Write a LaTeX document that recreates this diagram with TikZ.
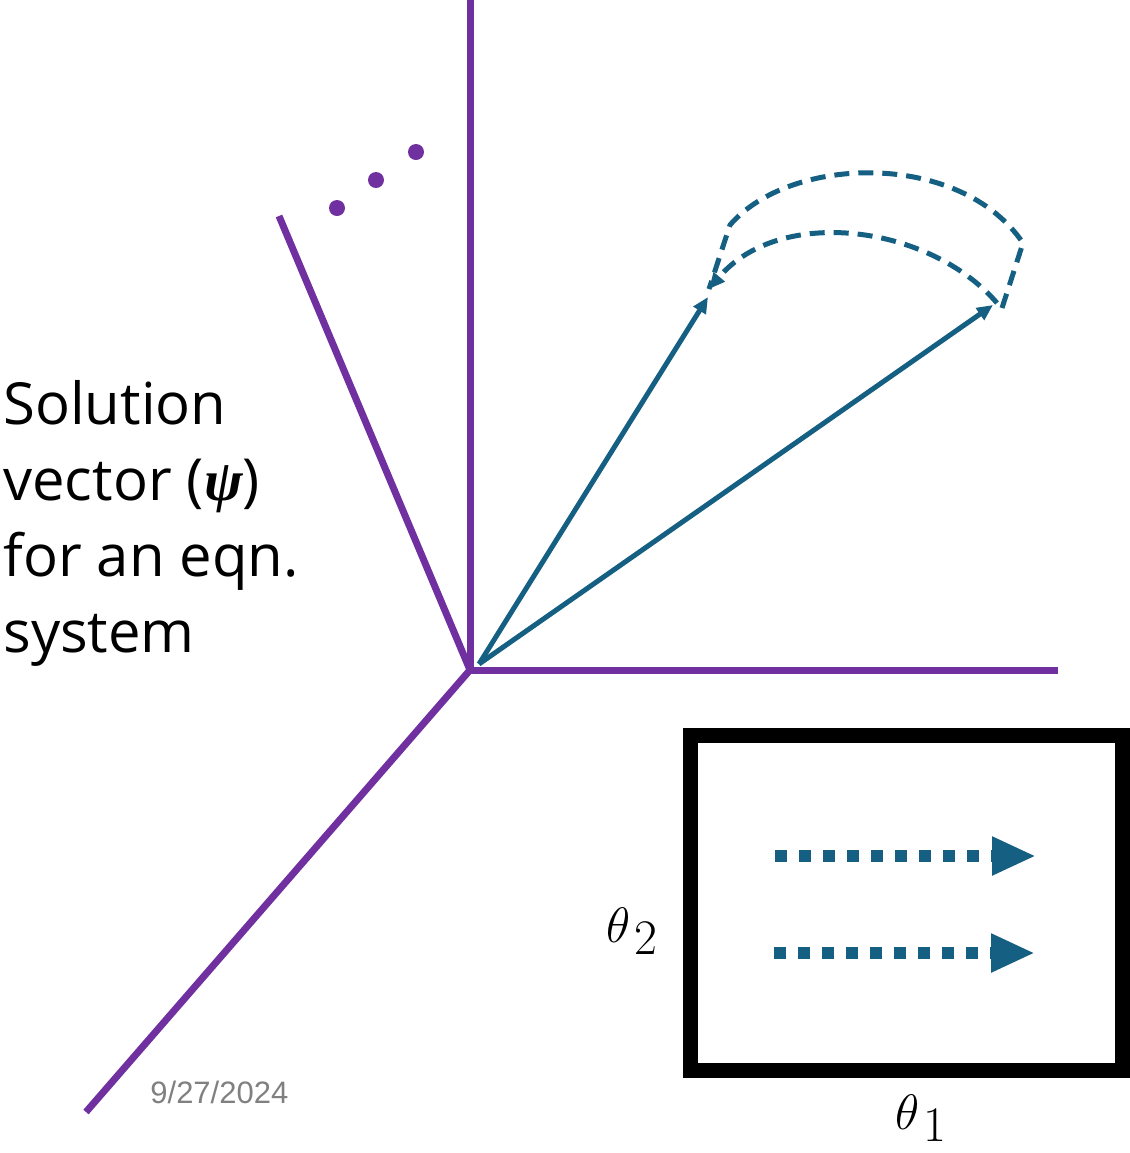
\documentclass[tikz,border=0pt]{standalone}
\usepackage{amsmath}
\usepackage{fontspec}
\setmainfont{Open Sans}
\newfontfamily\datefont{Liberation Sans}
\newfontfamily\psifont{Liberation Serif}
\usetikzlibrary{arrows.meta}
\definecolor{axpurple}{HTML}{7030A0}
\definecolor{vecblue}{HTML}{156082}
\newcommand{\thetasub}[1]{{\fontsize{31}{34}\selectfont$\theta$}\kern2pt\raisebox{-6pt}{\fontsize{24}{28}\selectfont$#1$}}
\begin{document}
\begin{tikzpicture}[x=0.5pt,y=-0.5pt,
  axis/.style={draw=axpurple,line width=3.5pt},
  vec/.style={draw=vecblue,line width=2.5pt,-{Triangle[length=8pt,width=7pt]}},
  arc/.style={draw=vecblue,line width=2.5pt,dash pattern=on 7.5pt off 4.5pt},
  sweep/.style={draw=vecblue,line width=6pt,dash pattern=on 6pt off 6pt,-{Triangle[length=22pt,width=18pt]}},
  lbl/.style={inner sep=0pt}]
\useasboundingbox (0,0) rectangle (1130,1153);
% axes
\coordinate (O) at (470,670);
\coordinate (Ytop) at (470,0);
\coordinate (Xend) at (1058,670);
\coordinate (Zend) at (86,1112);
\coordinate (Wend) at (279,216);
\draw[axis] (O) -- (Ytop);
\draw[axis] (O) -- (Xend);
\draw[axis] (O) -- (Zend);
\draw[axis] (O) -- (Wend);
\fill[axpurple] (337,208) circle[radius=4pt] (376,180) circle[radius=4pt] (416,152) circle[radius=4pt];
% vectors
\coordinate (V0) at (479,664);
\coordinate (V1) at (708,297);
\coordinate (V2) at (993,305);
\draw[vec] (V0) -- (V1);
\draw[vec] (V0) -- (V2);
% dashed sweep
\coordinate (A) at (709,289);
\coordinate (B) at (997,303);
\coordinate (C) at (730,225);
\coordinate (D) at (1023,243);
\coordinate (E) at (1002,308);
\draw[arc,-{Triangle[length=8pt,width=7pt]}] (B) .. controls (930,225) and (780,205) .. (A);
\draw[arc] (E) -- (D) .. controls (960,150) and (790,155) .. (C) -- (A);
% parameter box
\node[draw=black,line width=7.5pt,minimum width=216pt,minimum height=167.5pt,inner sep=0pt] (box) at (906,902.5) {};
\coordinate (S1a) at (775,856);
\coordinate (S1b) at (1036,856);
\coordinate (S2a) at (774,953);
\coordinate (S2b) at (1035,953);
\draw[sweep] (S1a) -- (S1b);
\draw[sweep] (S2a) -- (S2b);
\node[lbl,anchor=south west] (t2) at (606,955) {\thetasub{2}};
\node[lbl,anchor=south west] (t1) at (895,1142) {\thetasub{1}};
% text
\node[lbl,anchor=base west,align=left,font=\fontsize{29}{38}\selectfont] (txt) at (3,652)
  {Solution\\vector ({\psifont\bfseries\itshape ψ})\\for an eqn.\\system};
\node[lbl,anchor=base west,text=black!50,font=\datefont\fontsize{15.5}{18}\selectfont] (date) at (150,1103) {9/27/2024};
\end{tikzpicture}
\end{document}
